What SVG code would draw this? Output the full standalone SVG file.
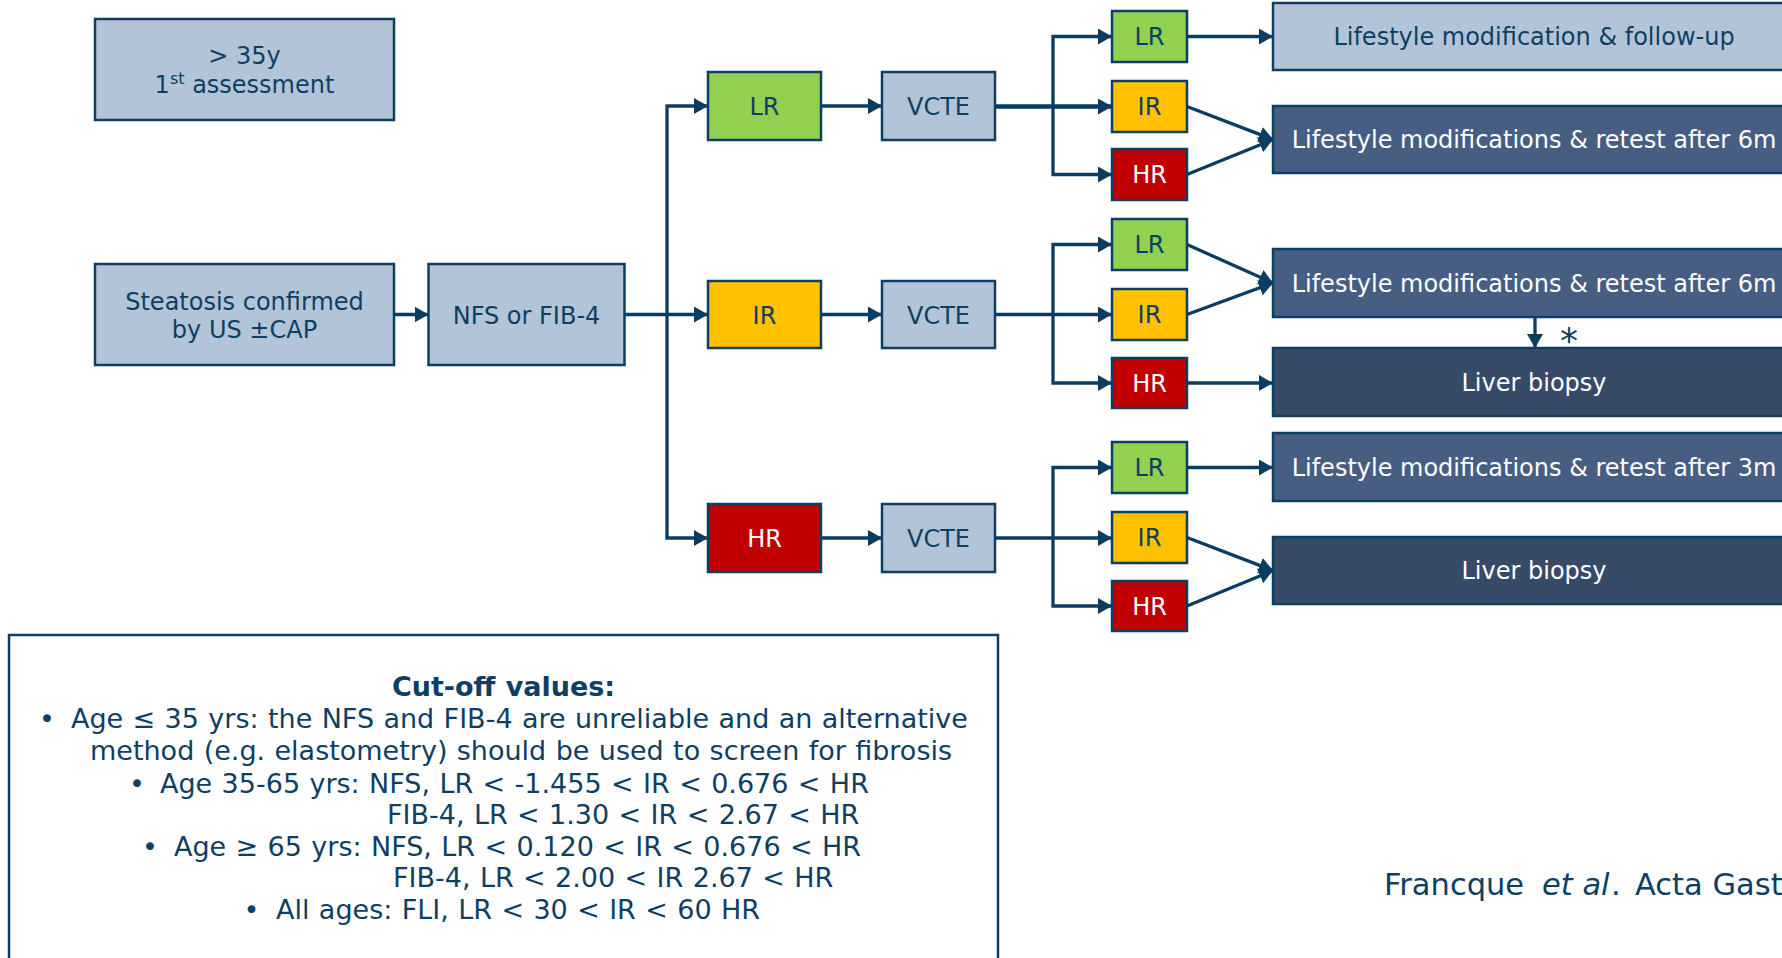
<svg xmlns="http://www.w3.org/2000/svg" width="1782" height="958" viewBox="0 0 1782 958">
<defs>
<style>
.bx{stroke:#0d3f63;stroke-width:2.5}
.lb{fill:#b4c4d8}.g{fill:#92d050}.y{fill:#ffc000}.r{fill:#c00000}.d1{fill:#475e82}.d2{fill:#374a68}
.t{font-family:"DejaVu Sans",Verdana,sans-serif;font-size:24px;text-anchor:middle;fill:#0d3f63}
.w{fill:#ffffff}
.c{stroke:#0b3d62;stroke-width:3.3;fill:none;marker-end:url(#ah)}
.ct{font-family:"DejaVu Sans",Verdana,sans-serif;font-size:27px;word-spacing:0.8px;fill:#0d3f63}
</style>
<marker id="ah" markerUnits="userSpaceOnUse" markerWidth="14" markerHeight="16" refX="14" refY="8" orient="auto" viewBox="0 0 14 16"><path d="M0,0 L14,8 L0,16 z" fill="#0b3d62"/></marker>
</defs>
<rect width="1782" height="958" fill="#ffffff"/>

<g id="connectors">
<path class="c" d="M394,314.5 H428.5"/>
<path class="c" d="M624.5,314.5 H708"/>
<path class="c" d="M667,314.5 V106 H708"/>
<path class="c" d="M667,314.5 V538 H708"/>
<path class="c" d="M821,106 H882"/>
<path class="c" d="M821,314.5 H882"/>
<path class="c" d="M821,538 H882"/>
<path class="c" d="M995,106.5 H1112" style="stroke-width:4.5"/>
<path class="c" d="M1053,106.5 V36.5 H1112"/>
<path class="c" d="M1053,106.5 V174.5 H1112"/>
<path class="c" d="M995,314.5 H1112"/>
<path class="c" d="M1053,314.5 V244.5 H1112"/>
<path class="c" d="M1053,314.5 V383 H1112"/>
<path class="c" d="M995,538 H1112"/>
<path class="c" d="M1053,538 V467.5 H1112"/>
<path class="c" d="M1053,538 V606 H1112"/>
<path class="c" d="M1187,36.5 H1273"/>
<path class="c" d="M1187,106.5 L1273,139.5"/>
<path class="c" d="M1187,174.5 L1273,139.5"/>
<path class="c" d="M1187,244.5 L1273,283"/>
<path class="c" d="M1187,314.5 L1273,283"/>
<path class="c" d="M1187,383 H1273"/>
<path class="c" d="M1187,467.5 H1273"/>
<path class="c" d="M1187,537.5 L1273,570.5"/>
<path class="c" d="M1187,606 L1273,570.5"/>
<path class="c" d="M1535,317 V348"/>
</g>

<g id="age"><rect class="bx lb" x="95" y="19" width="299" height="101"/>
<text class="t" x="244.5" y="64">&gt; 35y</text>
<text class="t" x="244.5" y="93">1<tspan font-size="16" dy="-9">st</tspan><tspan dy="9"> assessment</tspan></text></g>

<g id="steatosis"><rect class="bx lb" x="95" y="264" width="299" height="101"/>
<text class="t" x="244.5" y="310">Steatosis confirmed</text>
<text class="t" x="244.5" y="338">by US ±CAP</text></g>

<g id="nfs"><rect class="bx lb" x="428.5" y="264" width="196" height="101"/>
<text class="t" x="526.5" y="323.5">NFS or FIB-4</text></g>

<g id="lr1"><rect class="bx g" x="708" y="72" width="113" height="68"/><text class="t" x="764.5" y="115">LR</text></g>
<g id="ir1"><rect class="bx y" x="708" y="281" width="113" height="67"/><text class="t" x="764.5" y="323.5">IR</text></g>
<g id="hr1"><rect class="bx r" x="708" y="504" width="113" height="68"/><text class="t w" x="764.5" y="547">HR</text></g>

<g id="vcte1"><rect class="bx lb" x="882" y="72" width="113" height="68"/><text class="t" x="938.5" y="115">VCTE</text></g>
<g id="vcte2"><rect class="bx lb" x="882" y="281" width="113" height="67"/><text class="t" x="938.5" y="323.5">VCTE</text></g>
<g id="vcte3"><rect class="bx lb" x="882" y="504" width="113" height="68"/><text class="t" x="938.5" y="547">VCTE</text></g>

<g id="a-lr"><rect class="bx g" x="1112" y="11" width="75" height="51"/><text class="t" x="1149.5" y="45">LR</text></g>
<g id="a-ir"><rect class="bx y" x="1112" y="81" width="75" height="51"/><text class="t" x="1149.5" y="115">IR</text></g>
<g id="a-hr"><rect class="bx r" x="1112" y="149" width="75" height="51"/><text class="t w" x="1149.5" y="183">HR</text></g>
<g id="b-lr"><rect class="bx g" x="1112" y="219" width="75" height="51"/><text class="t" x="1149.5" y="253">LR</text></g>
<g id="b-ir"><rect class="bx y" x="1112" y="289" width="75" height="51"/><text class="t" x="1149.5" y="323">IR</text></g>
<g id="b-hr"><rect class="bx r" x="1112" y="358" width="75" height="50"/><text class="t w" x="1149.5" y="391.5">HR</text></g>
<g id="c-lr"><rect class="bx g" x="1112" y="442" width="75" height="51"/><text class="t" x="1149.5" y="476">LR</text></g>
<g id="c-ir"><rect class="bx y" x="1112" y="512" width="75" height="51"/><text class="t" x="1149.5" y="546">IR</text></g>
<g id="c-hr"><rect class="bx r" x="1112" y="581" width="75" height="50"/><text class="t w" x="1149.5" y="614.5">HR</text></g>

<g id="followup"><rect class="bx lb" x="1273" y="3" width="530" height="67"/><text class="t" x="1534" y="45">Lifestyle modification &amp; follow-up</text></g>
<g id="retest6a"><rect class="bx d1" x="1273" y="106" width="530" height="67"/><text class="t w" x="1534" y="148">Lifestyle modifications &amp; retest after 6m</text></g>
<g id="retest6b"><rect class="bx d1" x="1273" y="249" width="530" height="68"/><text class="t w" x="1534" y="291.5">Lifestyle modifications &amp; retest after 6m</text></g>
<g id="biopsy1"><rect class="bx d2" x="1273" y="348" width="530" height="68"/><text class="t w" x="1534" y="390.5">Liver biopsy</text></g>
<g id="retest3"><rect class="bx d1" x="1273" y="433" width="530" height="68"/><text class="t w" x="1534" y="475.5">Lifestyle modifications &amp; retest after 3m</text></g>
<g id="biopsy2"><rect class="bx d2" x="1273" y="537" width="530" height="67"/><text class="t w" x="1534" y="579">Liver biopsy</text></g>

<text x="1569" y="353" font-family="DejaVu Sans,sans-serif" font-size="36" text-anchor="middle" fill="#0d3f63">*</text>

<g id="cutoff">
<rect x="9" y="635" width="989" height="400" fill="#ffffff" stroke="#0d3f63" stroke-width="2.5"/>
<text class="ct" x="503.5" y="696" text-anchor="middle" font-weight="bold">Cut-off values:</text>
<text class="ct" y="728"><tspan x="47" text-anchor="middle">•</tspan><tspan x="71">Age ≤ 35 yrs: the NFS and FIB-4 are unreliable and an alternative</tspan></text>
<text class="ct" x="90" y="760">method (e.g. elastometry) should be used to screen for fibrosis</text>
<text class="ct" y="793"><tspan x="137" text-anchor="middle">•</tspan><tspan x="160">Age 35-65 yrs: NFS, LR &lt; -1.455 &lt; IR &lt; 0.676 &lt; HR</tspan></text>
<text class="ct" x="387" y="824">FIB-4, LR &lt; 1.30 &lt; IR &lt; 2.67 &lt; HR</text>
<text class="ct" y="856"><tspan x="150" text-anchor="middle">•</tspan><tspan x="174">Age ≥ 65 yrs: NFS, LR &lt; 0.120 &lt; IR &lt; 0.676 &lt; HR</tspan></text>
<text class="ct" x="393" y="887">FIB-4, LR &lt; 2.00 &lt; IR 2.67 &lt; HR</text>
<text class="ct" y="919"><tspan x="251.5" text-anchor="middle">•</tspan><tspan x="276">All ages: FLI, LR &lt; 30 &lt; IR &lt; 60 HR</tspan></text>
</g>

<text x="1384" y="895" font-family="DejaVu Sans,Verdana,sans-serif" font-size="30.5" fill="#0d3f63">Francque <tspan x="1542" font-style="italic">et al</tspan><tspan x="1611">.</tspan><tspan x="1635">Acta Gast</tspan></text>
</svg>
